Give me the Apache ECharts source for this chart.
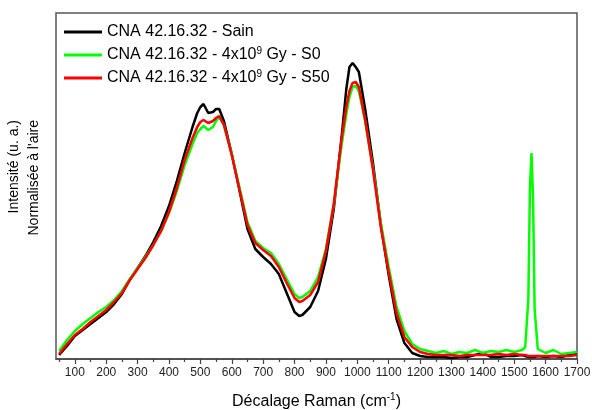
<!DOCTYPE html>
<html><head><meta charset="utf-8">
<script src="https://cdn.jsdelivr.net/npm/echarts@6/dist/echarts.min.js"></script>
<style>html,body{margin:0;padding:0;background:#fff}#c{width:592px;height:410px}</style>
</head><body><div id="c"></div>
<script>
const xs = [50,75,100,125,150,175,200,225,250,275,300,325,350,375,400,425,450,475,490,500,510,525,540,550,560,575,600,625,650,675,700,725,750,775,800,815,825,850,875,900,925,950,965,975,985,995,1005,1025,1050,1075,1100,1125,1150,1175,1200,1225,1250,1275,1300,1325,1350,1375,1400,1425,1450,1475,1500,1525,1535,1545,1550,1555,1560,1565,1575,1600,1625,1650,1675,1700];
const sain = [4,13,23,29,35,41,47,55,65,79,91,103,117,133,153,178,206,232,246,252,255,246,247,250,250,238,205,168,130,110,102,95,85,66,47,43,44,52,68,100,150,222,270,292,296,292,287,250,196,134,84,40,16,6,3,2,2,2,1,2,2,4,6,2,2,3,3,4,3,2,2,2,2,2,3,2,3,2,4,5];
const s0 = [8,19,28,35,41,47,52,59,68,80,91,102,114,128,146,168,194,215,226,230,233,229,232,238,242,234,205,171,137,118,111,106,95,80,65,61,62,68,82,110,154,214,245,262,272,273,268,238,191,136,92,52,28,15,10,8,6,8,5,7,6,9,6,8,7,9,7,9,12,60,170,206,160,50,10,6,9,5,6,7];
const s50 = [5,15,24,30,37,43,49,57,66,79,90,101,114,128,147,171,199,221,232,237,239,236,238,241,243,234,204,169,134,116,109,103,92,76,61,57,58,64,77,108,155,220,252,268,276,277,272,239,189,132,87,46,22,12,7,5,4,4,4,3,4,4,4,4,5,4,5,4,4,3,3,3,3,3,3,3,3,3,3,4];
const seriesNames = ['Sain','S0','S50'];
const majorTicks = [100,200,300,400,500,600,700,800,900,1000,1100,1200,1300,1400,1500,1600,1700];
const minorTicks = [50,150,250,350,450,550,650,750,850,950,1050,1150,1250,1350,1450,1550,1650];

const pair = ys => xs.map((x,i)=>[x,ys[i]]);
const font = 'Liberation Sans, Arial, sans-serif';
const chart = echarts.init(document.getElementById('c'));
const legendText = {
  'Sain': '{a|CNA 42.16.32 - Sain}',
  'S0': '{a|CNA 42.16.32 - 4x10}{s|9}{a| Gy - S0}',
  'S50': '{a|CNA 42.16.32 - 4x10}{s|9}{a| Gy - S50}'
};
chart.setOption({
  animation: false,
  textStyle: {fontFamily: font},
  grid: {left: 56, right: 15, top: 13, bottom: 51, show: true, borderColor: '#555', borderWidth: 1.5, outerBoundsMode: 'none', containLabel: false},
  legend: {
    left: 64, top: 24, orient: 'vertical', itemWidth: 38, itemHeight: 3, itemGap: 6, padding: 0,
    icon: 'rect',
    data: seriesNames,
    formatter: n => legendText[n],
    textStyle: {
      rich: {
        a: {fontSize: 16, color: '#000', fontFamily: font, lineHeight: 18},
        s: {fontSize: 10, color: '#000', fontFamily: font, verticalAlign: 'top', lineHeight: 10}
      }
    }
  },
  xAxis: [{
    type: 'value', min: 40, max: 1700,
    name: '{a|Décalage Raman (cm}{s|-1}{a|)}', nameLocation: 'middle', nameGap: 33,
    nameTextStyle: {rich: {
      a: {fontSize: 16, color: '#000', fontFamily: font, lineHeight: 19},
      s: {fontSize: 10, color: '#000', fontFamily: font, verticalAlign: 'top', lineHeight: 10}
    }},
    axisLine: {show: true, lineStyle: {color: '#444', width: 1.5}},
    axisTick: {show: true, customValues: majorTicks, length: 5, lineStyle: {color: '#444', width: 1.2}},
    axisLabel: {customValues: majorTicks, formatter: v => String(v), fontSize: 12, color: '#222', margin: 8, fontFamily: font},
    splitLine: {show: false}
  }, {
    type: 'value', min: 40, max: 1700, position: 'bottom',
    axisLine: {show: false},
    axisTick: {show: true, customValues: minorTicks, length: 3, lineStyle: {color: '#444', width: 1.2}},
    axisLabel: {show: false}, splitLine: {show: false}
  }],
  yAxis: {
    type: 'value', min: 0, max: 346,
    name: "{l|Intensité (u. a.)}\n{l|Normalisée à l'aire}", nameLocation: 'middle', nameGap: 12,
    nameTextStyle: {padding: [0, 0, 0, 15], rich: {
      l: {fontSize: 14, color: '#000', fontFamily: font, lineHeight: 20, width: 117, align: 'right'}
    }},
    axisLine: {show: false}, axisTick: {show: false}, axisLabel: {show: false}, splitLine: {show: false}
  },
  series: [
    {name: 'Sain', type: 'line', data: pair(sain), symbol: 'none', lineStyle: {color: '#000', width: 2.5}, itemStyle: {color: '#000'}},
    {name: 'S0', type: 'line', data: pair(s0), symbol: 'none', lineStyle: {color: '#00ff00', width: 2.5}, itemStyle: {color: '#00ff00'}},
    {name: 'S50', type: 'line', data: pair(s50), symbol: 'none', lineStyle: {color: '#ff0000', width: 2.5}, itemStyle: {color: '#ff0000'}}
  ]
});
</script></body></html>
